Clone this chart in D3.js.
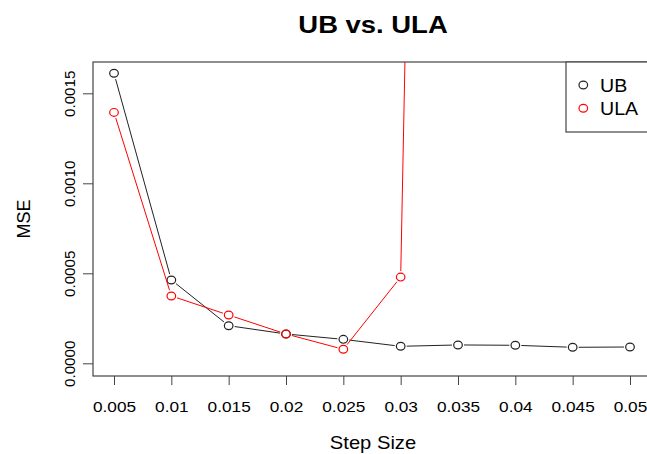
<!DOCTYPE html>
<html><head><meta charset="utf-8">
<script src="https://cdn.jsdelivr.net/npm/d3@7"></script>
<style>
html,body{margin:0;padding:0;background:#fff;}
svg{display:block;font-family:"Liberation Sans",Arial,Helvetica,sans-serif;}
</style></head>
<body>
<svg id="chart" width="647" height="454"></svg>
<script>
const stepSizes = [0.005, 0.01, 0.015, 0.02, 0.025, 0.03, 0.035, 0.04, 0.045, 0.05];
const xTickLabels = ["0.005","0.01","0.015","0.02","0.025","0.03","0.035","0.04","0.045","0.05"];
const ubMSE  = [0.001611, 0.000463, 0.000209, 0.000163, 0.000133, 0.0000944, 0.000102, 0.000100, 0.0000889, 0.0000906];
const ulaMSE = [0.001394, 0.000374, 0.000268, 0.000163, 0.0000778, 0.000479, 0.0165, 0.05, 0.09, 0.15];
const yTicks = [0, 0.0005, 0.0010, 0.0015];
const yTickLabels = ["0.0000","0.0005","0.0010","0.0015"];
const seriesNames = ["UB","ULA"];
const seriesColors = ["#222222","#ff0000"];

const svg = d3.select("#chart");
const box = {left: 93, top: 62, right: 653, bottom: 376};
const sx = 1.12; // horizontal stretch of the reference image

const x = d3.scaleLinear().domain([0.005, 0.05]).range([114, 630]);
const y = d3.scaleLinear().domain([0, 0.0015]).range([363.3, 93.3]);

svg.append("defs").append("clipPath").attr("id","clip")
  .append("rect").attr("x",box.left).attr("y",box.top)
  .attr("width",box.right-box.left).attr("height",box.bottom-box.top);

// Title
svg.append("text").attr("transform",`translate(373,33) scale(${sx},1)`)
  .attr("text-anchor","middle").attr("font-weight","bold").attr("font-size",24.5)
  .attr("fill","#000").text("UB vs. ULA");

// x axis
const xAxis = d3.axisBottom(x).tickValues(stepSizes).tickSize(9).tickFormat((d,i)=>xTickLabels[i]);
const gx = svg.append("g").attr("transform",`translate(0,${box.bottom})`).call(xAxis);
gx.attr("font-size",null).attr("font-family",null);
gx.select(".domain").remove();
gx.selectAll("line").attr("stroke","#444");
gx.selectAll("text").attr("font-size",15.4).attr("fill","#000")
  .attr("y",null).attr("dy",null).attr("x",null)
  .attr("transform",`translate(0,36) scale(${sx},1)`);

// y axis
const yAxis = d3.axisLeft(y).tickValues(yTicks).tickSize(10).tickFormat((d,i)=>yTickLabels[i]);
const gy = svg.append("g").attr("transform",`translate(${box.left},0)`).call(yAxis);
gy.attr("font-size",null).attr("font-family",null);
gy.select(".domain").remove();
gy.selectAll("line").attr("stroke","#444");
gy.selectAll("text").attr("font-size",15.2).attr("fill","#000")
  .attr("x",null).attr("dy",null).attr("y",null)
  .attr("text-anchor","middle")
  .attr("transform","translate(-18,0) rotate(-90)");

// axis titles
svg.append("text").attr("transform",`translate(373,449) scale(${sx},1)`)
  .attr("text-anchor","middle").attr("font-size",18).attr("fill","#000").text("Step Size");
svg.append("text").attr("transform",`translate(30,219) rotate(-90)`)
  .attr("text-anchor","middle").attr("font-size",18).attr("fill","#000").text("MSE");

// plot box
svg.append("rect").attr("x",box.left).attr("y",box.top)
  .attr("width",box.right-box.left).attr("height",box.bottom-box.top)
  .attr("fill","none").attr("stroke","#444").attr("stroke-width",1.2);

// series: R type="b" (points + gapped lines)
const gap = 6;
function drawSeries(vals, color){
  const g = svg.append("g").attr("clip-path","url(#clip)");
  const pts = stepSizes.map((s,i)=>[x(s), y(vals[i])]);
  for(let i=0;i<pts.length-1;i++){
    const [x1,y1]=pts[i],[x2,y2]=pts[i+1];
    const dx=x2-x1, dy=y2-y1, L=Math.hypot(dx,dy);
    if(L<=2*gap) continue;
    const ux=dx/L, uy=dy/L;
    g.append("line").attr("x1",x1+ux*gap).attr("y1",y1+uy*gap)
      .attr("x2",x2-ux*gap).attr("y2",y2-uy*gap)
      .attr("stroke",color).attr("stroke-width",1);
  }
  g.selectAll("ellipse.p").data(pts).enter().append("ellipse")
    .attr("cx",d=>d[0]).attr("cy",d=>d[1]).attr("rx",4.3).attr("ry",3.9)
    .attr("fill","none").attr("stroke",color).attr("stroke-width",1.2);
}
drawSeries(ubMSE, seriesColors[0]);
drawSeries(ulaMSE, seriesColors[1]);

// legend
const lg = svg.append("g");
lg.append("rect").attr("x",566).attr("y",box.top).attr("width",100).attr("height",70)
  .attr("fill","#fff").attr("stroke","#444").attr("stroke-width",1.2);
seriesNames.forEach((name,i)=>{
  const cy = 85 + i*23.3;
  lg.append("ellipse").attr("cx",583.3).attr("cy",cy).attr("rx",4.3).attr("ry",3.9)
    .attr("fill","none").attr("stroke",seriesColors[i]).attr("stroke-width",1.2);
  lg.append("text").attr("transform",`translate(600,${cy+6.8}) scale(${sx},1)`)
    .attr("font-size",17.5).attr("fill","#000").text(name);
});
</script>
</body></html>
